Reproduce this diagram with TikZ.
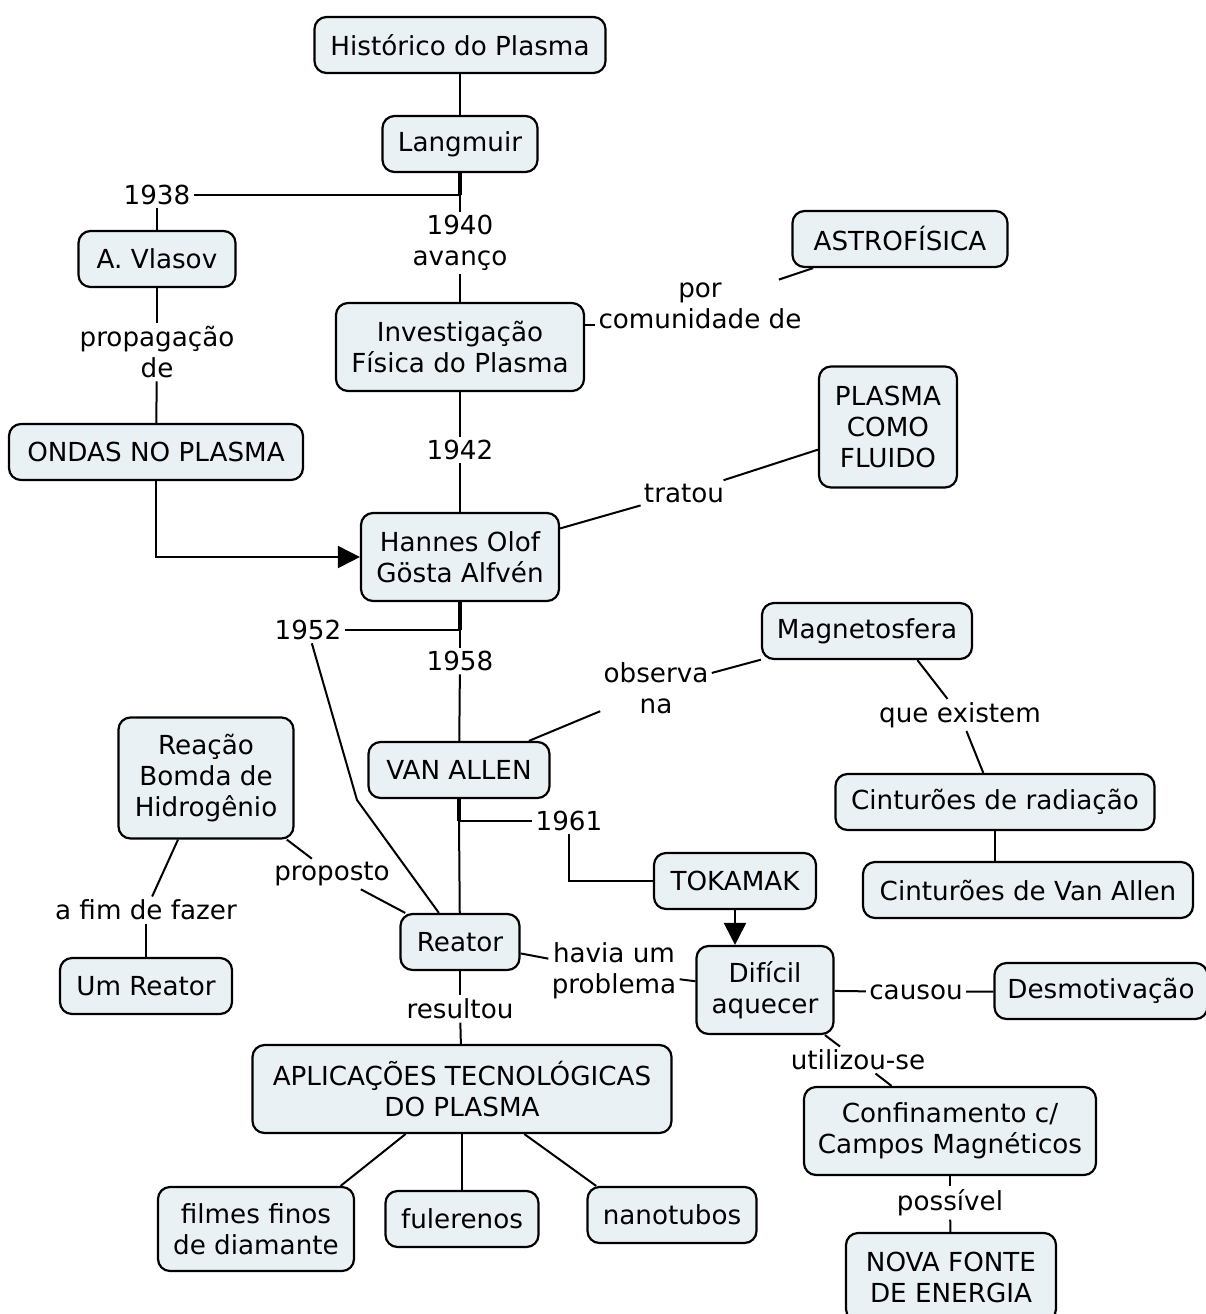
\documentclass[tikz,border=0pt]{standalone}
\usepackage{fontspec}
\setmainfont{DejaVu Sans}
\usepackage{xcolor}
\usepackage{tikz}
\usetikzlibrary{arrows.meta, positioning, calc}

\definecolor{conceptfill}{HTML}{EAF1F4}
\newcommand{\mapfont}{\fontsize{13.1}{15.5}\selectfont}

\begin{document}
\begin{tikzpicture}[
    x=0.5pt, y=-0.5pt,
    concept/.style={rectangle, draw, line width=1.1pt, rounded corners=6pt, fill=conceptfill, minimum height=28pt, inner xsep=5pt, inner ysep=7pt, align=center, font=\mapfont},
    twoline/.style={minimum height=44pt},
    threeline/.style={minimum height=60.5pt},
    link/.style={inner sep=1.5pt, align=center, font=\mapfont},
    line/.style={line width=1pt},
    junction/.style={line width=2.2pt},
    arrow/.style={line width=1pt, -{Triangle[length=11pt, width=11pt]}},
]
    \useasboundingbox (0,0) rectangle (1206,1314);

    % Concepts
    \node[concept, minimum width=145.5pt] (historico) at (460,45) {Histórico do Plasma};
    \node[concept, minimum width=77.5pt] (langmuir) at (460,144) {Langmuir};
    \node[concept, minimum width=78.5pt] (vlasov) at (157,259) {A. Vlasov};
    \node[concept, minimum width=107.5pt] (astro) at (900,239) {ASTROFÍSICA};
    \node[concept, twoline, minimum width=124pt] (investigacao) at (460,347) {Investigação\\Física do Plasma};
    \node[concept, minimum width=147pt] (ondas) at (156,452) {ONDAS NO PLASMA};
    \node[concept, threeline, minimum width=69pt] (fluido) at (888,427) {PLASMA\\COMO\\FLUIDO};
    \node[concept, twoline, minimum width=99pt] (alfven) at (460,557) {Hannes Olof\\Gösta Alfvén};
    \node[concept, minimum width=105pt] (magneto) at (867,631) {Magnetosfera};
    \node[concept, minimum width=90.5pt] (vanallen) at (459,770) {VAN ALLEN};
    \node[concept, threeline, minimum width=87.5pt] (bomba) at (206,778) {Reação\\Bomda de\\Hidrogênio};
    \node[concept, minimum width=159.5pt] (radiacao) at (995,802) {Cinturões de radiação};
    \node[concept, minimum width=81pt] (tokamak) at (735,881) {TOKAMAK};
    \node[concept, minimum width=165pt] (cinturoes) at (1028,890) {Cinturões de Van Allen};
    \node[concept, minimum width=59.5pt] (reator) at (460,942) {Reator};
    \node[concept, minimum width=86pt] (umreator) at (146,986) {Um Reator};
    \node[concept, twoline, minimum width=68.5pt] (dificil) at (765,990) {Difícil\\aquecer};
    \node[concept, minimum width=106.5pt] (desmot) at (1101,991) {Desmotivação};
    \node[concept, twoline, minimum width=209.5pt] (aplicacoes) at (462,1089) {APLICAÇÕES TECNOLÓGICAS\\DO PLASMA};
    \node[concept, twoline, minimum width=146pt] (confinamento) at (950,1131) {Confinamento c/\\Campos Magnéticos};
    \node[concept, minimum height=42pt, minimum width=98pt] (filmes) at (256,1229) {filmes finos\\de diamante};
    \node[concept, minimum width=76.5pt] (fulerenos) at (462,1219) {fulerenos};
    \node[concept, minimum width=84.5pt] (nanotubos) at (672,1215) {nanotubos};
    \node[concept, twoline, minimum width=105pt] (novafonte) at (951,1277) {NOVA FONTE\\DE ENERGIA};

    % Linking phrases
    \node[link] (l1938) at (157,195) {1938};
    \node[link] (l1940) at (460,243) {1940\\avanço};
    \node[link] (lpor) at (700,306) {por\\comunidade de};
    \node[link] (lpropag) at (157,352) {propagação\\de};
    \node[link] (l1942) at (460,450) {1942};
    \node[link] (ltratou) at (684,493) {tratou};
    \node[link] (l1952) at (308,630) {1952};
    \node[link] (l1958) at (460,661) {1958};
    \node[link] (lobserva) at (656,688) {observa\\na};
    \node[link] (lexistem) at (960,715) {que existem};
    \node[link] (l1961) at (569,821) {1961};
    \node[link] (lproposto) at (332,874) {proposto};
    \node[link] (lafim) at (146,910) {a fim de fazer};
    \node[link] (lhavia) at (614,971) {havia um\\problema};
    \node[link] (lresultou) at (460,1009) {resultou};
    \node[link] (lcausou) at (916,992) {causou};
    \node[link] (lutilizou) at (858,1060) {utilizou-se};
    \node[link] (lpossivel) at (950,1203) {possível};

    % Branch points
    \coordinate (j1) at (460,195);
    \coordinate (j2) at (460,630);
    \coordinate (j3) at (459,821);
    \coordinate (bend) at (357,800);

    % Main timeline
    \draw[line] (historico) -- (langmuir);
    \draw[junction] (langmuir) -- (j1);
    \draw[line] (j1) -- (l1938);
    \draw[line] (j1) -- (l1940);
    \draw[line] (l1938) -- (vlasov);
    \draw[line] (l1940) -- (investigacao);
    \draw[line] (investigacao.10) -- (investigacao.10 -| lpor.west);
    \draw[line] (lpor) -- (astro);
    \draw[line] (vlasov) -- (lpropag);
    \draw[line] (lpropag) -- (ondas);
    \draw[arrow] (ondas.south) |- (alfven.west);
    \draw[line] (investigacao) -- (l1942);
    \draw[line] (l1942) -- (alfven);
    \draw[line] (alfven) -- (ltratou);
    \draw[line] (ltratou) -- (fluido);
    \draw[junction] (alfven) -- (j2);
    \draw[line] (j2) -- (l1952);
    \draw[line] (j2) -- (l1958);
    \draw[line] (l1952) -- (bend) -- (reator);
    \draw[line] (l1958) -- (vanallen);

    % Van Allen side
    \draw[line] (vanallen) -- (lobserva);
    \draw[line] (lobserva) -- (magneto);
    \draw[line] (magneto.-30) -- (lexistem);
    \draw[line] (lexistem) -- (radiacao);
    \draw[line] (radiacao.south) -- (radiacao.south |- cinturoes.north);
    \draw[junction] (vanallen) -- (j3);
    \draw[line] (j3) -- (l1961);
    \draw[line] (j3) -- (reator);
    \draw[line] (l1961.south) |- (tokamak.west);
    \draw[arrow] (tokamak.south) -- (tokamak.south |- dificil.north);

    % Reactor
    \draw[line] (bomba) -- (lproposto);
    \draw[line] (lproposto) -- (reator);
    \draw[line] (bomba) -- (lafim);
    \draw[line] (lafim) -- (umreator);
    \draw[line] (reator) -- (lhavia);
    \draw[line] (lhavia) -- (dificil);
    \draw[line] (dificil) -- (lcausou);
    \draw[line] (lcausou) -- (desmot);
    \draw[line] (dificil) -- (lutilizou);
    \draw[line] (lutilizou) -- (confinamento);
    \draw[line] (confinamento) -- (lpossivel);
    \draw[line] (lpossivel) -- (novafonte);

    % Applications
    \draw[line] (reator) -- (lresultou);
    \draw[line] (lresultou) -- (aplicacoes);
    \draw[line] (aplicacoes) -- (filmes.27);
    \draw[line] (aplicacoes) -- (fulerenos);
    \draw[line] (aplicacoes) -- (nanotubos.159);
\end{tikzpicture}
\end{document}
